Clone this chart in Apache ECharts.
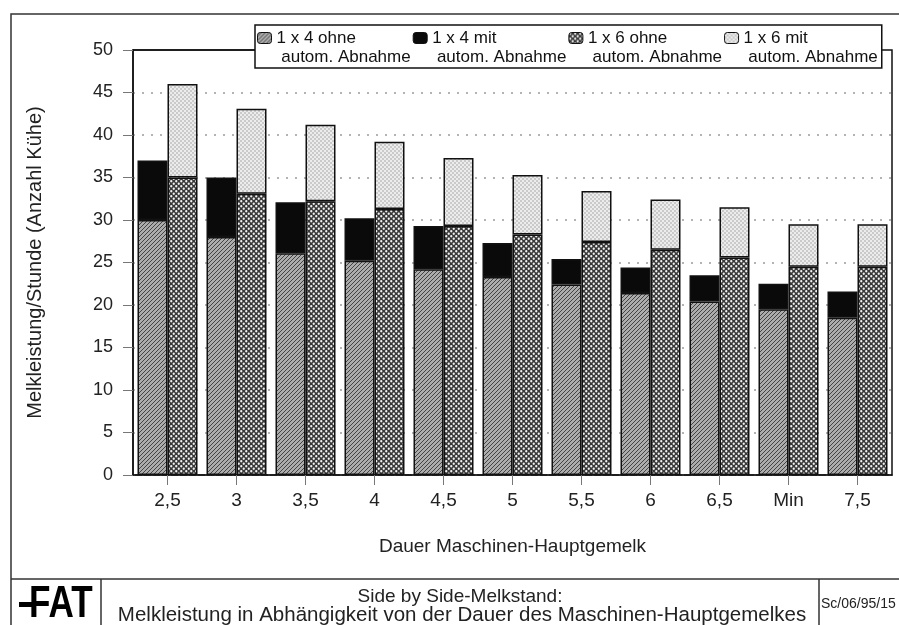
<!DOCTYPE html>
<html>
<head>
<meta charset="utf-8">
<script src="https://cdn.jsdelivr.net/npm/echarts@6/dist/echarts.min.js"></script>
<style>
html,body{margin:0;padding:0;background:#fff;}
#chart{width:899px;height:625px;}
</style>
</head>
<body>
<div id="chart"></div>
<script>
// ---- data ----
var categories = ['2,5', '3', '3,5', '4', '4,5', '5', '5,5', '6', '6,5', 'Min', '7,5'];
var seriesNames = ['1 x 4 ohne autom. Abnahme', '1 x 4 mit autom. Abnahme', '1 x 6 ohne autom. Abnahme', '1 x 6 mit autom. Abnahme'];
var legendLine1 = ['1 x 4 ohne', '1 x 4 mit', '1 x 6 ohne', '1 x 6 mit'];
var legendLine2 = 'autom. Abnahme';
var ohne4 = [30, 28, 26.1, 25.2, 24.2, 23.3, 22.4, 21.4, 20.4, 19.5, 18.5];
var mit4  = [7, 7, 6, 5, 5.1, 4, 3, 3, 3.1, 3, 3.1];
var ohne6 = [35, 33.1, 32.2, 31.3, 29.3, 28.3, 27.4, 26.5, 25.6, 24.5, 24.5];
var mit6  = [11, 10, 9, 7.9, 8, 7, 6, 5.9, 5.9, 5, 5];
var yTicks = {min: 0, max: 50, interval: 5};

// ---- patterns ----
function makeCanvas(s) { var c = document.createElement('canvas'); c.width = s; c.height = s; return c; }
function hatchPattern() {
  var c = makeCanvas(4), g = c.getContext('2d');
  g.fillStyle = '#acacac'; g.fillRect(0, 0, 4, 4);
  g.strokeStyle = '#444'; g.lineWidth = 1;
  g.beginPath(); g.moveTo(0, 4); g.lineTo(4, 0); g.moveTo(-1, 1); g.lineTo(1, -1); g.moveTo(3, 5); g.lineTo(5, 3); g.stroke();
  return {image: c, repeat: 'repeat'};
}
function crossPattern() {
  var c = makeCanvas(5), g = c.getContext('2d');
  g.fillStyle = '#383838'; g.fillRect(0, 0, 5, 5);
  g.fillStyle = '#f2f2f2';
  g.beginPath(); g.arc(1.25, 1.25, 1.15, 0, Math.PI * 2); g.fill();
  g.beginPath(); g.arc(3.75, 3.75, 1.15, 0, Math.PI * 2); g.fill();
  return {image: c, repeat: 'repeat'};
}
function dotPattern() {
  var c = makeCanvas(4), g = c.getContext('2d');
  g.fillStyle = '#ececec'; g.fillRect(0, 0, 4, 4);
  g.fillStyle = '#666';
  g.fillRect(0.5, 0.5, 1, 1);
  g.fillRect(2.5, 2.5, 1, 1);
  return {image: c, repeat: 'repeat'};
}

var FONT = 'Liberation Sans, Arial, Helvetica, sans-serif';
var chart = echarts.init(document.getElementById('chart'), null, {renderer: 'canvas'});

function barSeries(name, stack, data, color) {
  return {
    name: name, type: 'bar', stack: stack, data: data,
    barWidth: 30, barGap: '0%',
    itemStyle: {color: color, borderColor: '#111', borderWidth: 1.5},
    emphasis: {disabled: true}
  };
}

var option = {
  backgroundColor: '#fff',
  animation: false,
  textStyle: {fontFamily: FONT},
  grid: {left: 133, right: 7, top: 50, bottom: 150, show: true, borderColor: '#111', borderWidth: 1.5, backgroundColor: 'transparent'},
  legend: {
    left: 255, top: 25,
    orient: 'horizontal',
    itemWidth: 14, itemHeight: 11, itemGap: 2,
    padding: [-15.5, 4, 1.5, 2],
    backgroundColor: '#fff', borderColor: '#111', borderWidth: 1.5,
    data: seriesNames,
    formatter: function (name) {
      var i = seriesNames.indexOf(name);
      return '\n' + legendLine1[i] + '\n ' + legendLine2;
    },
    textStyle: {fontFamily: FONT, fontSize: 17, lineHeight: 19, color: '#111'},
    itemStyle: {borderColor: '#111', borderWidth: 1}
  },
  xAxis: {
    type: 'category', data: categories,
    axisLine: {lineStyle: {color: '#111', width: 1.5}},
    axisTick: {show: true, alignWithLabel: true, length: 10, lineStyle: {color: '#777', width: 1}},
    axisLabel: {fontSize: 19, color: '#222', margin: 16, fontFamily: FONT},
    name: 'Dauer Maschinen-Hauptgemelk', nameLocation: 'middle', nameGap: 62,
    nameTextStyle: {fontSize: 19, color: '#222', fontFamily: FONT}
  },
  yAxis: {
    type: 'value', min: yTicks.min, max: yTicks.max, interval: yTicks.interval,
    axisLine: {show: true, lineStyle: {color: '#111', width: 1.5}},
    axisTick: {show: true, length: 10, lineStyle: {color: '#777', width: 1}},
    axisLabel: {fontSize: 18, color: '#222', margin: 20, fontFamily: FONT},
    splitLine: {show: true, showMaxLine: false, lineStyle: {color: '#9a9a9a', width: 1.5, type: [2, 7]}},
    name: 'Melkleistung/Stunde (Anzahl Kühe)', nameLocation: 'middle', nameGap: 88, nameRotate: 90,
    nameTextStyle: {fontSize: 20, color: '#222', fontFamily: FONT}
  },
  series: [
    barSeries(seriesNames[0], 'a', ohne4, hatchPattern()),
    barSeries(seriesNames[1], 'a', mit4, '#0a0a0a'),
    barSeries(seriesNames[2], 'b', ohne6, crossPattern()),
    barSeries(seriesNames[3], 'b', mit6, dotPattern())
  ],
  graphic: [
    {type: 'rect', silent: true, z: -1, shape: {x: 11, y: 14, width: 920, height: 700}, style: {fill: 'none', stroke: '#333', lineWidth: 1.5}},
    {type: 'line', silent: true, shape: {x1: 133, y1: 50, x2: 260, y2: 50}, style: {stroke: '#111', lineWidth: 1.5}},
    {type: 'line', silent: true, shape: {x1: 11, y1: 579, x2: 899, y2: 579}, style: {stroke: '#333', lineWidth: 1.5}},
    {type: 'line', silent: true, shape: {x1: 101, y1: 579, x2: 101, y2: 625}, style: {stroke: '#333', lineWidth: 1.5}},
    {type: 'line', silent: true, shape: {x1: 819, y1: 579, x2: 819, y2: 625}, style: {stroke: '#333', lineWidth: 1.5}},
    {type: 'rect', silent: true, shape: {x: 19, y: 602, width: 16, height: 5}, style: {fill: '#000'}},
    {type: 'text', silent: true, x: 29, y: 587, scaleX: 0.78, style: {text: 'FAT', fontFamily: FONT, fontWeight: 'bold', fontSize: 45, fill: '#000', lineHeight: 36}},
    {type: 'text', silent: true, x: 460, y: 597, style: {text: 'Side by Side-Melkstand:', fontFamily: FONT, fontSize: 19, fill: '#222', align: 'center', verticalAlign: 'middle'}},
    {type: 'text', silent: true, x: 462, y: 615, style: {text: 'Melkleistung in Abhängigkeit von der Dauer des Maschinen-Hauptgemelkes', fontFamily: FONT, fontSize: 20.5, fill: '#222', align: 'center', verticalAlign: 'middle'}},
    {type: 'text', silent: true, x: 821, y: 604, style: {text: 'Sc/06/95/15', fontFamily: FONT, fontSize: 14, fill: '#222', align: 'left', verticalAlign: 'middle'}}
  ]
};
chart.setOption(option);
</script>
</body>
</html>
